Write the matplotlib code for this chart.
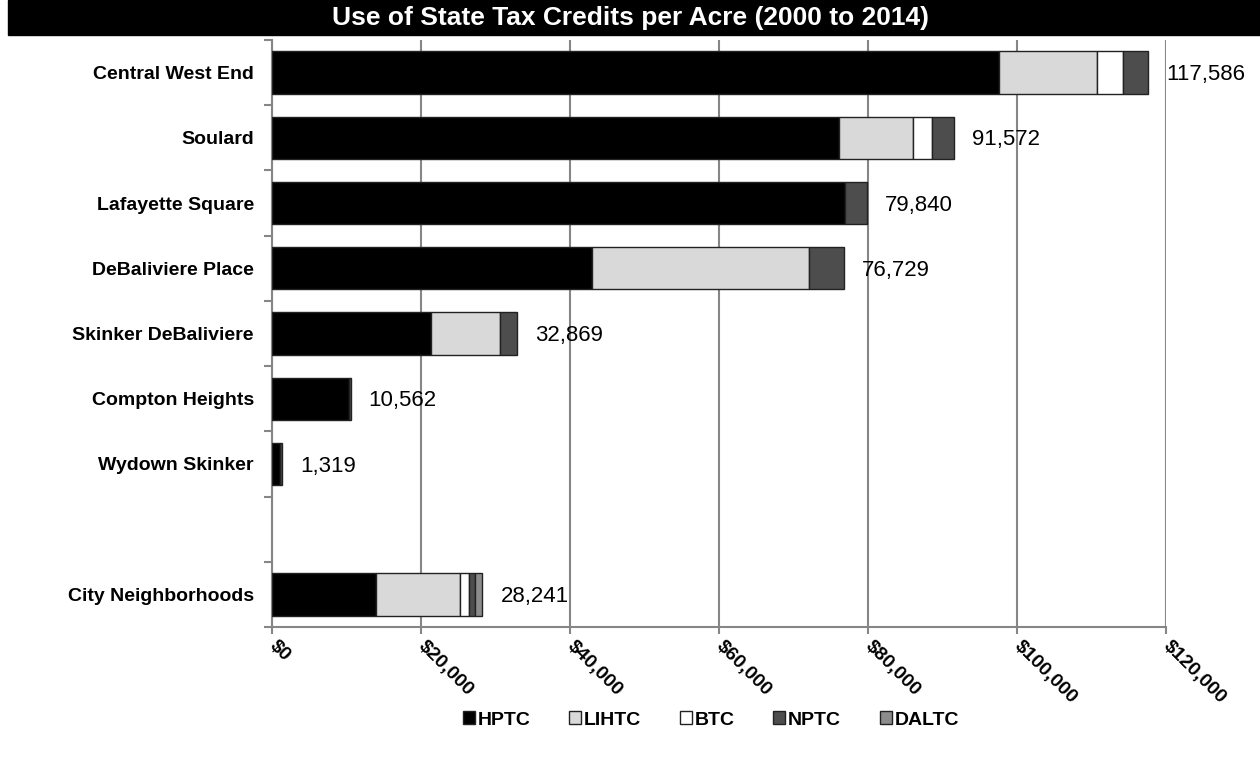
import matplotlib
matplotlib.use("Agg")
import matplotlib.pyplot as plt
from matplotlib.patches import Patch
import numpy as np

plt.rcParams['font.family'] = ['Liberation Sans', 'DejaVu Sans']

neighborhoods = ["Central West End", "Soulard", "Lafayette Square", "DeBaliviere Place",
                 "Skinker DeBaliviere", "Compton Heights", "Wydown Skinker", "",
                 "City Neighborhoods"]
hptc = [97600, 76100, 76900, 43000, 21400, 10400, 1100, 0, 13900]
lihtc = [13200, 10000, 0, 29100, 9200, 0, 0, 0, 11400]
btc = [3400, 2500, 0, 0, 0, 0, 0, 0, 1100]
nptc = [3386, 2972, 2940, 4629, 2269, 162, 219, 0, 900]
daltc = [0, 0, 0, 0, 0, 0, 0, 0, 941]
totals = [117586, 91572, 79840, 76729, 32869, 10562, 1319, None, 28241]

series = [("HPTC", hptc, "#000000"), ("LIHTC", lihtc, "#d9d9d9"),
          ("BTC", btc, "#ffffff"), ("NPTC", nptc, "#4d4d4d"),
          ("DALTC", daltc, "#8c8c8c")]

fig = plt.figure(figsize=(12.6, 7.57), dpi=100)
ax = fig.add_axes([272/1260, 1-627/757, (1166-272)/1260, (627-40)/757])

y = np.arange(len(neighborhoods))
left = np.zeros(len(neighborhoods))
for name, vals, col in series:
    vals = np.array(vals, dtype=float)
    keep = vals > 0
    ax.barh(y[keep], vals[keep], left=left[keep], height=0.65, color=col,
            edgecolor="#222222", linewidth=1.0, zorder=3)
    left += vals

for yi, t in zip(y, totals):
    if t is None:
        continue
    ax.annotate(f"{t:,}", xy=(t, yi), xytext=(13, -1.5), textcoords="offset points",
                va="center", ha="left", fontsize=16, color="black", zorder=4)

ax.set_xlim(0, 120000)
ax.set_ylim(len(neighborhoods) - 0.5, -0.5)
xt = np.arange(0, 120001, 20000)
ax.set_xticks(xt)
ax.set_xticklabels([f"${v:,}" for v in xt], rotation=-45, ha="left", va="center",
                   rotation_mode="anchor", fontsize=14, fontweight="bold")
ax.tick_params(axis="x", length=5, color="#868686", width=1.5, pad=7)

ax.set_yticks(y)
ax.set_yticklabels(neighborhoods, fontsize=14, fontweight="bold")
ax.tick_params(axis="y", length=0, pad=13)
ax.set_yticks(np.arange(-0.5, len(neighborhoods)), minor=True)
ax.tick_params(axis="y", which="minor", length=6, color="#868686", width=1.5)

ax.grid(axis="x", color="#868686", linewidth=1.5, zorder=0)
for s in ["top", "right"]:
    ax.spines[s].set_visible(False)
for s in ["left", "bottom"]:
    ax.spines[s].set_color("#868686")
    ax.spines[s].set_linewidth(1.5)

# title banner
fig.patches.append(plt.Rectangle((8/1260, 1-35/757), (1260-8)/1260, 35/757,
                                 transform=fig.transFigure, color="black", zorder=0))
fig.text(630/1260, 1-18/757, "Use of State Tax Credits per Acre (2000 to 2014)",
         ha="center", va="center", color="white", fontsize=19, fontweight="bold")

handles = [Patch(facecolor=c, edgecolor="#222222", label=n) for n, _, c in series]
fig.legend(handles=handles, loc="center", bbox_to_anchor=(711/1260, 1-720/757),
           ncol=5, frameon=False, prop={"weight": "bold", "size": 14},
           handlelength=0.6, handleheight=0.6, handletextpad=0.15, columnspacing=2.0)

fig.savefig("out.png", dpi=100)
